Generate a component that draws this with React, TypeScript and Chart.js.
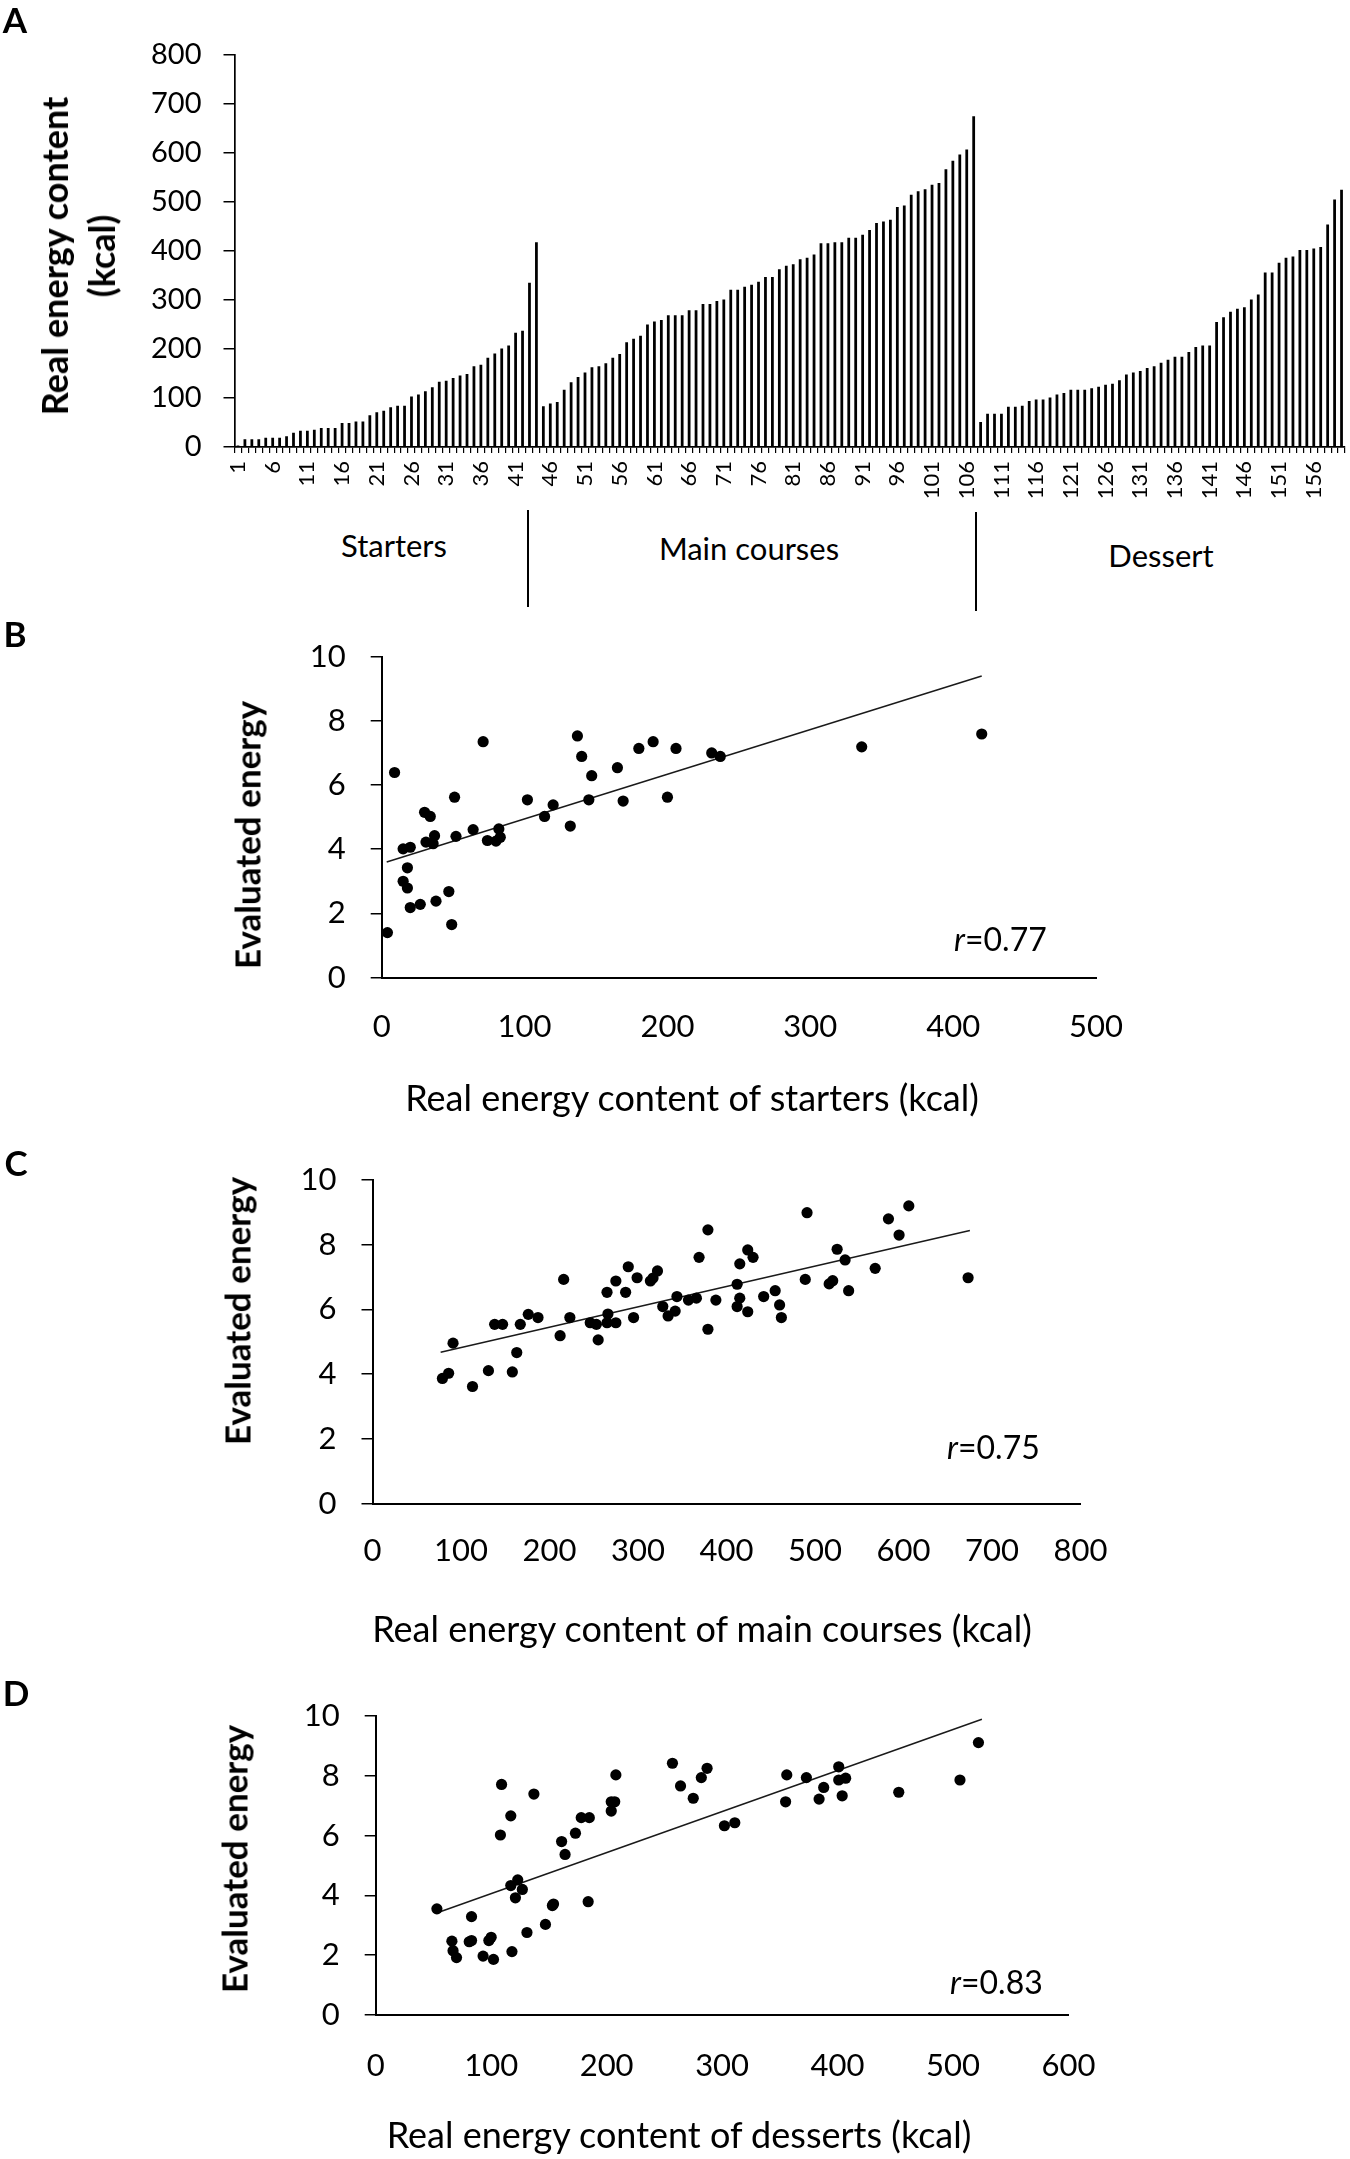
import React, { useEffect, useRef } from "react";
import Chart from "chart.js/auto";

// Panel A: real energy content (kcal) of each dish, sorted within each course
const starters = [
  3, 16, 16, 16, 19, 19, 19, 22, 29, 33, 33, 35, 39, 39, 39, 49, 49, 52, 52, 65,
  71, 74, 81, 84, 84, 103, 107, 114, 122, 133, 135, 141, 146, 149, 165, 168, 182,
  191, 201, 207, 233, 237, 335, 418,
];
const mainCourses = [
  83, 89, 92, 117, 132, 143, 152, 163, 165, 171, 182, 190, 214, 221, 227, 250,
  256, 259, 269, 269, 269, 279, 279, 292, 292, 298, 301, 321, 321, 327, 331, 337,
  347, 347, 363, 370, 373, 383, 386, 393, 416, 416, 418, 418, 427, 427, 433, 443,
  457, 460, 464, 490, 493, 515, 522, 526, 535, 539, 567, 584, 597, 607, 675,
];
const desserts = [
  51, 68, 68, 68, 82, 82, 84, 94, 97, 97, 101, 107, 110, 117, 117, 117, 120, 123,
  127, 129, 136, 148, 152, 155, 161, 165, 172, 178, 184, 184, 194, 204, 207, 207,
  255, 265, 276, 282, 285, 301, 311, 356, 356, 376, 386, 389, 402, 402, 405, 408,
  454, 505, 525,
];
const energyValues = [...starters, ...mainCourses, ...desserts];
const dishLabels = energyValues.map((_, i) => String(i + 1));
const courseNames = ["Starters", "Main courses", "Dessert"];

// Panel B: starters
const startersKcal = [
  4, 9, 15, 20, 18, 15, 18, 20, 27, 30, 34, 31, 37, 36, 38, 47, 49, 51, 52, 64,
  71, 74, 80, 82, 83, 102, 114, 120, 132, 137, 140, 147, 145, 165, 169, 180, 190,
  200, 206, 231, 237, 336, 420,
];
const startersScore = [
  1.4, 6.39, 4.01, 4.06, 3.42, 3.0, 2.79, 2.18, 2.28, 5.15, 5.02, 4.22, 4.42,
  4.17, 2.38, 2.68, 1.65, 5.62, 4.4, 4.61, 7.35, 4.27, 4.25, 4.63, 4.37, 5.54,
  5.02, 5.38, 4.72, 7.53, 6.89, 6.29, 5.54, 6.54, 5.5, 7.14, 7.35, 5.62, 7.14,
  7.0, 6.89, 7.19, 7.59,
];
const startersFit = [[3.5, 3.6], [420, 9.4]];

// Panel C: main courses
const mainsKcal = [
  79, 86, 91, 113, 131, 138, 147, 158, 163, 167, 176, 187, 212, 216, 223, 246,
  253, 255, 265, 266, 265, 275, 275, 286, 289, 295, 299, 314, 317, 322, 328, 334,
  342, 344, 357, 366, 369, 379, 379, 388, 412, 415, 415, 412, 424, 430, 424, 442,
  455, 460, 462, 491, 489, 516, 520, 525, 534, 538, 568, 583, 595, 606, 673,
];
const mainsScore = [
  3.87, 4.03, 4.96, 3.62, 4.11, 5.54, 5.54, 4.07, 4.67, 5.54, 5.85, 5.75, 5.19,
  6.93, 5.75, 5.59, 5.54, 5.06, 5.59, 5.86, 6.53, 5.59, 6.88, 6.53, 7.32, 5.75,
  6.98, 6.88, 6.97, 7.19, 6.09, 5.8, 5.95, 6.4, 6.29, 6.35, 7.61, 8.46, 5.39,
  6.29, 6.78, 7.41, 6.35, 6.09, 7.84, 7.61, 5.93, 6.4, 6.58, 6.14, 5.75, 8.99,
  6.93, 6.79, 6.89, 7.86, 7.53, 6.58, 7.27, 8.8, 8.3, 9.2, 6.98,
];
const mainsFit = [[77, 4.68], [675, 8.44]];

// Panel D: desserts
const dessertsKcal = [
  53, 66, 67, 70, 83, 81, 83, 93, 98, 100, 102, 108, 109, 117, 118, 117, 123, 121,
  127, 131, 137, 147, 153, 154, 161, 164, 173, 178, 185, 184, 204, 204, 207, 208,
  257, 264, 275, 282, 287, 302, 311, 355, 356, 373, 384, 388, 401, 401, 407, 404,
  453, 506, 522,
];
const dessertsScore = [
  3.55, 2.47, 2.15, 1.92, 3.29, 2.45, 2.49, 1.97, 2.49, 2.6, 1.86, 6.02, 7.71,
  6.66, 2.12, 4.33, 4.52, 3.92, 4.2, 2.76, 7.39, 3.03, 3.66, 3.71, 5.8, 5.37,
  6.08, 6.6, 6.6, 3.79, 6.82, 7.13, 7.13, 8.03, 8.42, 7.66, 7.25, 7.94, 8.25,
  6.33, 6.43, 7.13, 8.03, 7.94, 7.22, 7.61, 8.3, 7.86, 7.92, 7.33, 7.45, 7.86,
  9.11,
];
const dessertsFit = [[54, 3.43], [525, 9.89]];

Chart.defaults.font.family = "Lato";
Chart.defaults.color = "#000";

type Box = { left: number; top: number; width: number; height: number };

function ChartBox({ box, config }: { box: Box; config: any }) {
  const ref = useRef<HTMLCanvasElement | null>(null);
  useEffect(() => {
    if (!ref.current) return;
    const chart = new Chart(ref.current, config);
    return () => chart.destroy();
  }, []);
  return (
    <canvas
      ref={ref}
      width={box.width}
      height={box.height}
      style={{ position: "absolute", left: box.left, top: box.top, width: box.width, height: box.height }}
    />
  );
}

function Label(props: {
  x: number;
  y: number;
  size: number;
  bold?: boolean;
  rotate?: boolean;
  left?: boolean;
  family?: string;
  lineHeight?: string;
  children: React.ReactNode;
}) {
  const { x, y, size, bold, rotate, left, family, lineHeight, children } = props;
  return (
    <div
      style={{
        position: "absolute",
        left: x,
        top: y,
        transform: `translate(${left ? "0" : "-50%"}, -50%)${rotate ? " rotate(-90deg)" : ""}`,
        fontFamily: family ?? "Lato",
        fontSize: size,
        fontWeight: bold ? 700 : 400,
        lineHeight: lineHeight ?? 1,
        whiteSpace: "nowrap",
        textAlign: "center",
        color: "#000",
      }}
    >
      {children}
    </div>
  );
}

const barConfig = {
  type: "bar",
  data: {
    labels: dishLabels,
    datasets: [
      {
        data: energyValues,
        backgroundColor: "#000",
        barPercentage: 0.4,
        categoryPercentage: 1,
      },
    ],
  },
  options: {
    responsive: false,
    animation: false,
    events: [],
    layout: { padding: { top: 55, right: 5, left: 0, bottom: 0 } },
    plugins: { legend: { display: false }, tooltip: { enabled: false } },
    scales: {
      x: {
        offset: true,
        grid: { display: true, offset: true, drawOnChartArea: false, tickLength: 6, color: "#000", lineWidth: 1.2 },
        border: { display: true, color: "#000", width: 1.7 },
        ticks: {
          autoSkip: false,
          minRotation: 90,
          maxRotation: 90,
          padding: 8,
          font: { size: 22 },
          callback: (_v: any, i: number) => (i % 5 === 0 ? dishLabels[i] : ""),
        },
        afterFit: (s: any) => {
          s.height = 73;
          s.paddingLeft = 0;
          s.paddingRight = 0;
        },
      },
      y: {
        min: 0,
        max: 800,
        ticks: { stepSize: 100, padding: 22, font: { size: 29 } },
        grid: { drawOnChartArea: false, tickLength: 11, color: "#000", lineWidth: 1.5 },
        border: { display: true, color: "#000", width: 1.7 },
        afterFit: (s: any) => {
          s.width = 234.5;
          s.paddingTop = 0;
          s.paddingBottom = 0;
        },
      },
    },
  },
};

type Frame = { top: number; right: number; yWidth: number; xHeight: number; xPad: number };

function scatterConfig(kcal: number[], score: number[], fit: number[][], xMax: number, f: Frame) {
  return {
    type: "scatter",
    data: {
      datasets: [
        {
          data: kcal.map((x, i) => ({ x, y: score[i] })),
          pointRadius: 5.6,
          pointBackgroundColor: "#000",
          pointBorderWidth: 0,
        },
        {
          data: fit.map(([x, y]) => ({ x, y })),
          showLine: true,
          pointRadius: 0,
          borderColor: "#1a1a1a",
          borderWidth: 1.5,
        },
      ],
    },
    options: {
      responsive: false,
      animation: false,
      events: [],
      layout: { padding: { top: f.top, right: f.right, left: 0, bottom: 0 } },
      plugins: { legend: { display: false }, tooltip: { enabled: false } },
      scales: {
        x: {
          type: "linear",
          min: 0,
          max: xMax,
          ticks: { stepSize: 100, padding: f.xPad, font: { size: 31 } },
          grid: { display: false, drawTicks: false },
          border: { display: true, color: "#000", width: 2 },
          afterFit: (s: any) => {
            s.height = f.xHeight;
            s.paddingLeft = 0;
            s.paddingRight = 0;
          },
        },
        y: {
          min: 0,
          max: 10,
          ticks: { stepSize: 2, padding: 25, font: { size: 31 } },
          grid: { drawOnChartArea: false, tickLength: 11, color: "#000", lineWidth: 1.5 },
          border: { display: true, color: "#000", width: 2 },
          afterFit: (s: any) => {
            s.width = f.yWidth;
            s.paddingTop = 0;
            s.paddingBottom = 0;
          },
        },
      },
    },
  };
}

const configB = scatterConfig(startersKcal, startersScore, startersFit, 500, {
  top: 56.7, right: 54, yWidth: 381.7, xHeight: 142.5, xPad: 31,
});
const configC = scatterConfig(mainsKcal, mainsScore, mainsFit, 800, {
  top: 60, right: 69.5, yWidth: 372.5, xHeight: 136.3, xPad: 29,
});
const configD = scatterConfig(dessertsKcal, dessertsScore, dessertsFit, 600, {
  top: 56, right: 81.5, yWidth: 375.7, xHeight: 144, xPad: 32,
});

const Separator = ({ x, top, height }: { x: number; top: number; height: number }) => (
  <div style={{ position: "absolute", left: x, top, width: 2, height, background: "#000" }} />
);

export default function App() {
  return (
    <div
      style={{
        position: "absolute",
        left: 0,
        top: 0,
        width: 1350,
        height: 2159,
        background: "#fff",
        overflow: "hidden",
      }}
    >
      <ChartBox box={{ left: 0, top: 0, width: 1350, height: 520 }} config={barConfig} />
      <ChartBox box={{ left: 0, top: 600, width: 1150, height: 520 }} config={configB} />
      <ChartBox box={{ left: 0, top: 1120, width: 1150, height: 520 }} config={configC} />
      <ChartBox box={{ left: 0, top: 1660, width: 1150, height: 499 }} config={configD} />

      {/* panel letters */}
      <Label x={15} y={19} size={35} bold>A</Label>
      <Label x={15} y={633} size={35} bold>B</Label>
      <Label x={16} y={1162} size={35} bold>C</Label>
      <Label x={16} y={1692} size={35} bold>D</Label>

      {/* panel A */}
      <Label x={78} y={256} size={36} bold rotate lineHeight="47px">
        Real energy content
        <br />
        (kcal)
      </Label>
      <Label x={394} y={545} size={31}>{courseNames[0]}</Label>
      <Label x={749} y={548} size={31}>{courseNames[1]}</Label>
      <Label x={1161} y={555} size={31}>{courseNames[2]}</Label>
      <Separator x={527} top={510} height={97} />
      <Separator x={975} top={512} height={99} />

      {/* panel B */}
      <Label x={247} y={835} size={35} bold rotate>Evaluated energy</Label>
      <Label x={692} y={1097} size={36}>Real energy content of starters (kcal)</Label>
      <Label x={954} y={939} size={32} left>
        <i>r</i>=0.77
      </Label>

      {/* panel C */}
      <Label x={237} y={1311} size={35} bold rotate>Evaluated energy</Label>
      <Label x={702} y={1628} size={36}>Real energy content of main courses (kcal)</Label>
      <Label x={947} y={1447} size={32} left>
        <i>r</i>=0.75
      </Label>

      {/* panel D */}
      <Label x={234} y={1859} size={35} bold rotate>Evaluated energy</Label>
      <Label x={679} y={2134} size={36}>Real energy content of desserts (kcal)</Label>
      <Label x={950} y={1982} size={32} left>
        <i>r</i>=0.83
      </Label>
    </div>
  );
}
